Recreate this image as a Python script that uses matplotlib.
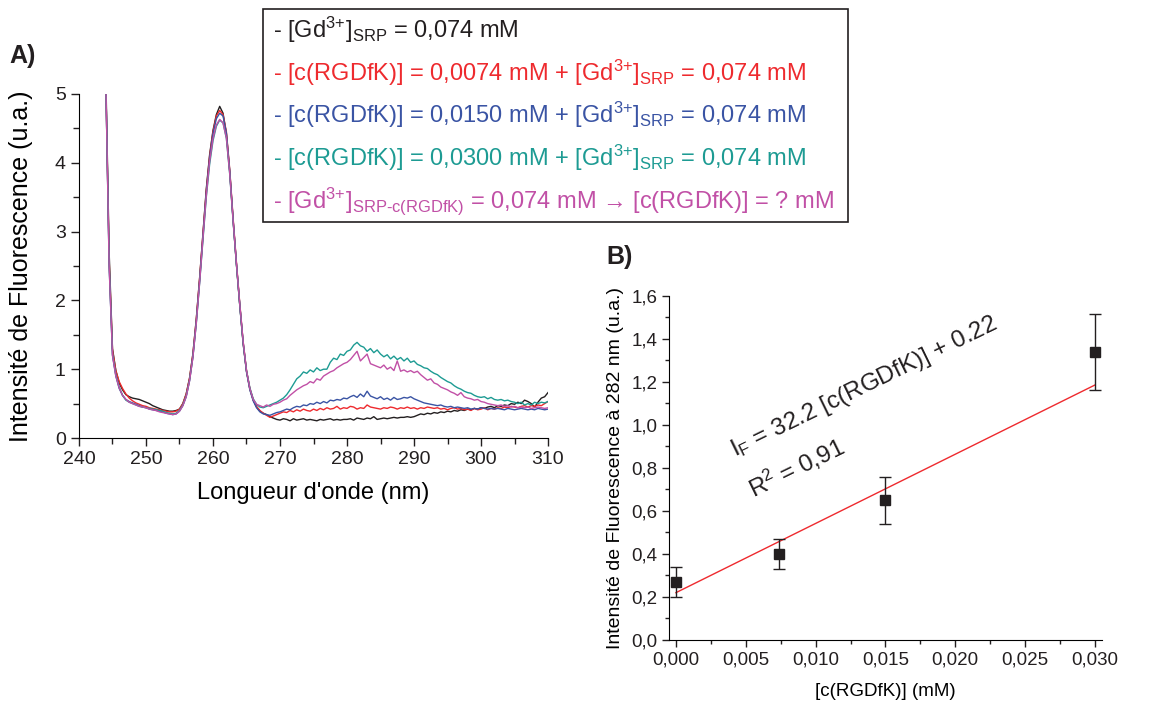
import numpy as np
import matplotlib.pyplot as plt
from matplotlib.ticker import MultipleLocator, FuncFormatter
from matplotlib.patches import Rectangle

plt.rcParams['font.family'] = ['Liberation Sans', 'DejaVu Sans']
plt.rcParams['mathtext.fontset'] = 'custom'
plt.rcParams['mathtext.rm'] = 'Liberation Sans'
plt.rcParams['mathtext.it'] = 'Liberation Sans'
plt.rcParams['mathtext.bf'] = 'Liberation Sans:bold'
plt.rcParams['text.color'] = '#231f20'

# --- panel A : emission spectra (0.5 nm steps, 244 -> 310 nm) ---
wavelength = np.arange(244, 310.5, 0.5)

gd_srp = [5.3, 2.7, 1.3, 0.98, 0.8, 0.7, 0.63, 0.6, 0.58,
          0.57, 0.56, 0.54, 0.52, 0.5, 0.47, 0.45, 0.43, 0.41,
          0.4, 0.39, 0.39, 0.4, 0.42, 0.5, 0.64, 0.87, 1.22,
          1.72, 2.32, 2.97, 3.62, 4.12, 4.47, 4.7, 4.82, 4.72,
          4.42, 3.87, 3.17, 2.52, 1.92, 1.37, 0.97, 0.71, 0.55,
          0.45, 0.39, 0.36, 0.34, 0.31, 0.29, 0.27, 0.26, 0.28,
          0.27, 0.25, 0.28, 0.26, 0.27, 0.28, 0.26, 0.27, 0.26,
          0.25, 0.27, 0.26, 0.27, 0.28, 0.26, 0.27, 0.26, 0.27,
          0.27, 0.28, 0.26, 0.29, 0.28, 0.27, 0.29, 0.28, 0.31,
          0.27, 0.28, 0.29, 0.28, 0.29, 0.3, 0.29, 0.3, 0.3,
          0.31, 0.3, 0.31, 0.33, 0.35, 0.34, 0.36, 0.35, 0.37,
          0.36, 0.38, 0.37, 0.39, 0.38, 0.4, 0.39, 0.41, 0.4,
          0.42, 0.41, 0.43, 0.42, 0.44, 0.43, 0.45, 0.46, 0.44,
          0.47, 0.46, 0.48, 0.47, 0.5, 0.49, 0.52, 0.5, 0.55,
          0.53, 0.5, 0.45, 0.52, 0.58, 0.6, 0.66]

rgd_0074 = [5.2, 2.6, 1.28, 0.98, 0.82, 0.72, 0.64, 0.58, 0.54,
            0.51, 0.49, 0.47, 0.46, 0.44, 0.43, 0.42, 0.41, 0.4,
            0.39, 0.38, 0.38, 0.39, 0.42, 0.5, 0.64, 0.87, 1.22,
            1.72, 2.32, 2.97, 3.6, 4.1, 4.45, 4.68, 4.76, 4.7,
            4.45, 3.9, 3.2, 2.55, 1.95, 1.4, 0.98, 0.72, 0.56,
            0.46, 0.4, 0.36, 0.33, 0.3, 0.32, 0.34, 0.36, 0.38,
            0.37, 0.4, 0.38, 0.41, 0.39, 0.42, 0.4, 0.39, 0.42,
            0.4, 0.43, 0.41, 0.44, 0.42, 0.43, 0.46, 0.42, 0.44,
            0.43, 0.46, 0.45, 0.42, 0.44, 0.43, 0.48, 0.45, 0.44,
            0.43, 0.42, 0.44, 0.43, 0.45, 0.44, 0.42, 0.44, 0.43,
            0.45, 0.43, 0.44, 0.42, 0.44, 0.43, 0.45, 0.44, 0.43,
            0.44, 0.42, 0.43, 0.41, 0.43, 0.44, 0.42, 0.43, 0.41,
            0.42, 0.4, 0.43, 0.41, 0.42, 0.44, 0.41, 0.43, 0.42,
            0.44, 0.43, 0.45, 0.44, 0.46, 0.45, 0.44, 0.46, 0.47,
            0.45, 0.47, 0.46, 0.48, 0.47, 0.5, 0.53]

rgd_0150 = [5.2, 2.5, 1.2, 0.9, 0.72, 0.62, 0.56, 0.53, 0.51,
            0.49, 0.47, 0.45, 0.44, 0.42, 0.41, 0.4, 0.39, 0.38,
            0.36, 0.35, 0.34, 0.35, 0.39, 0.47, 0.6, 0.83, 1.18,
            1.68, 2.28, 2.93, 3.57, 4.07, 4.42, 4.64, 4.72, 4.68,
            4.43, 3.88, 3.18, 2.53, 1.93, 1.38, 0.96, 0.7, 0.54,
            0.44, 0.38, 0.35, 0.34, 0.33, 0.35, 0.37, 0.38, 0.4,
            0.42, 0.41, 0.44, 0.46, 0.45, 0.48, 0.47, 0.5, 0.49,
            0.52, 0.5, 0.53, 0.51, 0.55, 0.54, 0.56, 0.55, 0.58,
            0.57, 0.6, 0.62, 0.59, 0.64, 0.6, 0.68, 0.61, 0.59,
            0.57, 0.6, 0.56, 0.58, 0.55, 0.59, 0.56, 0.57, 0.59,
            0.58, 0.6, 0.57, 0.55, 0.53, 0.51, 0.5, 0.49, 0.48,
            0.47, 0.48, 0.46, 0.45, 0.46, 0.44, 0.45, 0.44, 0.43,
            0.44, 0.42, 0.43, 0.42, 0.44, 0.43, 0.42, 0.43, 0.42,
            0.43, 0.42, 0.41, 0.43, 0.42, 0.41, 0.42, 0.43, 0.42,
            0.41, 0.42, 0.41, 0.43, 0.42, 0.41, 0.42]

rgd_0300 = [5.2, 2.55, 1.22, 0.92, 0.74, 0.62, 0.55, 0.52, 0.5,
            0.48, 0.46, 0.45, 0.44, 0.43, 0.42, 0.41, 0.4, 0.39,
            0.37, 0.36, 0.35, 0.36, 0.4, 0.48, 0.61, 0.84, 1.18,
            1.66, 2.25, 2.88, 3.5, 3.98, 4.32, 4.53, 4.62, 4.58,
            4.35, 3.83, 3.15, 2.52, 1.93, 1.39, 0.98, 0.73, 0.57,
            0.49, 0.45, 0.44, 0.46, 0.48, 0.5, 0.52, 0.55, 0.58,
            0.63, 0.7, 0.78, 0.86, 0.9, 0.96, 0.94, 0.99, 0.96,
            1.02, 0.98, 1.0, 1.0, 1.1, 1.16, 1.14, 1.22, 1.2,
            1.26, 1.28, 1.35, 1.39, 1.34, 1.32, 1.26, 1.3, 1.24,
            1.28, 1.22, 1.18, 1.21, 1.15, 1.19, 1.14, 1.17, 1.12,
            1.16, 1.1, 1.12, 1.07, 1.05, 1.02, 1.01, 0.97, 0.94,
            0.92, 0.88, 0.85, 0.82, 0.8, 0.76, 0.73, 0.71, 0.68,
            0.66, 0.65, 0.62, 0.6, 0.59, 0.6, 0.57, 0.59, 0.56,
            0.55, 0.56, 0.54, 0.55, 0.53, 0.52, 0.5, 0.52, 0.48,
            0.5, 0.48, 0.52, 0.5, 0.52, 0.51, 0.53]

gd_srp_rgd = [5.2, 2.5, 1.2, 0.9, 0.73, 0.62, 0.56, 0.52, 0.5,
              0.48, 0.46, 0.45, 0.44, 0.42, 0.41, 0.4, 0.38, 0.37,
              0.36, 0.35, 0.34, 0.35, 0.39, 0.47, 0.6, 0.83, 1.17,
              1.66, 2.25, 2.9, 3.52, 4.02, 4.35, 4.55, 4.63, 4.58,
              4.36, 3.84, 3.16, 2.53, 1.94, 1.4, 0.98, 0.72, 0.56,
              0.49, 0.47, 0.45, 0.48, 0.46, 0.49, 0.5, 0.52, 0.55,
              0.57, 0.62, 0.66, 0.7, 0.73, 0.76, 0.78, 0.82, 0.8,
              0.86, 0.84, 0.9, 0.93, 0.96, 0.98, 1.02, 1.05, 1.08,
              1.1, 1.14, 1.2, 1.26, 1.12, 1.17, 1.22, 1.08, 1.06,
              1.04, 1.02, 1.06, 1.0, 1.03, 0.98, 1.12, 0.97, 0.99,
              0.96, 0.98, 0.95, 0.97, 0.92, 0.88, 0.84, 0.86, 0.8,
              0.78, 0.74, 0.72, 0.7, 0.67, 0.65, 0.62, 0.66, 0.6,
              0.58, 0.57, 0.55, 0.56, 0.53, 0.52, 0.5, 0.49, 0.48,
              0.47, 0.48, 0.46, 0.47, 0.45, 0.46, 0.44, 0.45, 0.44,
              0.45, 0.43, 0.44, 0.45, 0.44, 0.43, 0.44]

series_colors = ['#231f20', '#ee2a2e', '#3a54a4', '#1d9b93', '#c150a6']
legend_labels = [
    r'- [Gd$^{\text{3+}}$]$_{\mathrm{SRP}}$ = 0,074 mM',
    r'- [c(RGDfK)] = 0,0074 mM + [Gd$^{\text{3+}}$]$_{\mathrm{SRP}}$ = 0,074 mM',
    r'- [c(RGDfK)] = 0,0150 mM + [Gd$^{\text{3+}}$]$_{\mathrm{SRP}}$ = 0,074 mM',
    r'- [c(RGDfK)] = 0,0300 mM + [Gd$^{\text{3+}}$]$_{\mathrm{SRP}}$ = 0,074 mM',
    r'- [Gd$^{\text{3+}}$]$_{\text{SRP-c(RGDfK)}}$ = 0,074 mM $\mathbf{→}$ [c(RGDfK)] = ? mM',
]

# --- panel B : calibration ---
conc = [0.0, 0.0074, 0.015, 0.030]
intensity = [0.27, 0.40, 0.65, 1.34]
intensity_err = [0.068, 0.068, 0.11, 0.177]
slope, intercept = 32.2, 0.22

fig = plt.figure(figsize=(11.65, 7.06), dpi=100)

axA = fig.add_axes([0.0678, 0.3796, 0.4026, 0.4873])
for y, c in zip([gd_srp, rgd_0074, rgd_0150, rgd_0300, gd_srp_rgd], series_colors):
    axA.plot(wavelength, y, color=c, lw=1.0)
axA.set_xlim(240, 310)
axA.set_ylim(0, 5)
axA.xaxis.set_major_locator(MultipleLocator(10))
axA.xaxis.set_minor_locator(MultipleLocator(5))
axA.yaxis.set_major_locator(MultipleLocator(1))
axA.yaxis.set_minor_locator(MultipleLocator(0.5))
axA.spines[['top', 'right']].set_visible(False)
axA.tick_params(which='both', direction='out', labelsize=14, width=1, colors='#231f20')
axA.tick_params(which='major', length=6)
axA.tick_params(which='minor', length=4)
axA.set_xlabel("Longueur d'onde (nm)", fontsize=17, labelpad=10)
axA.set_ylabel('Intensité de Fluorescence (u.a.)', fontsize=18)
axA.yaxis.set_label_coords(-0.098, 0.5)

# legend box drawn as figure texts
fig.patches.append(Rectangle((263 / 1165, 1 - 222 / 706), 585 / 1165, 213 / 706,
                             transform=fig.transFigure, fill=False, ec='#231f20', lw=1.2))
for i, (lab, c) in enumerate(zip(legend_labels, series_colors)):
    fig.text(273 / 1165, 1 - (38 + i * 42.5) / 706, lab, color=c, fontsize=17,
             ha='left', va='baseline')

fig.text(9 / 1165, 1 - 63 / 706, 'A)', fontsize=18, fontweight='bold')
fig.text(606 / 1165, 1 - 264 / 706, 'B)', fontsize=18, fontweight='bold')

axB = fig.add_axes([0.5742, 0.0935, 0.3717, 0.4873])
fit_x = np.array([conc[0], conc[-1]])
axB.plot(fit_x, slope * fit_x + intercept, color='#ee2a2e', lw=1.0)
axB.errorbar(conc, intensity, yerr=intensity_err, fmt='s', color='#231f20',
             ms=7, capsize=4, elinewidth=1, capthick=1)
axB.set_xlim(-0.0005, 0.0305)
axB.set_ylim(0, 1.6)
axB.xaxis.set_major_locator(MultipleLocator(0.005))
axB.xaxis.set_minor_locator(MultipleLocator(0.0025))
axB.yaxis.set_major_locator(MultipleLocator(0.2))
axB.yaxis.set_minor_locator(MultipleLocator(0.1))
axB.xaxis.set_major_formatter(FuncFormatter(lambda v, p: f'{v:.3f}'.replace('.', ',')))
axB.yaxis.set_major_formatter(FuncFormatter(lambda v, p: f'{v:.1f}'.replace('.', ',')))
axB.spines[['top', 'right']].set_visible(False)
axB.tick_params(which='both', direction='out', labelsize=13.5, width=1, colors='#231f20')
axB.tick_params(which='major', length=5)
axB.tick_params(which='minor', length=3)
axB.set_xlabel('[c(RGDfK)] (mM)', fontsize=13.5, labelpad=10)
axB.set_ylabel('Intensité de Fluorescence à 282 nm (u.a.)', fontsize=14, labelpad=5)

fig.text(735 / 1165, 1 - 457 / 706, r'I$_{\mathrm{F}}$ = 32.2 [c(RGDfK)] + 0.22',
         fontsize=17.5, rotation=26, rotation_mode='anchor', ha='left', va='baseline')
fig.text(754 / 1165, 1 - 498 / 706, r'R$^{2}$ = 0,91',
         fontsize=17.5, rotation=26, rotation_mode='anchor', ha='left', va='baseline')

fig.savefig('out.png', dpi=100)
